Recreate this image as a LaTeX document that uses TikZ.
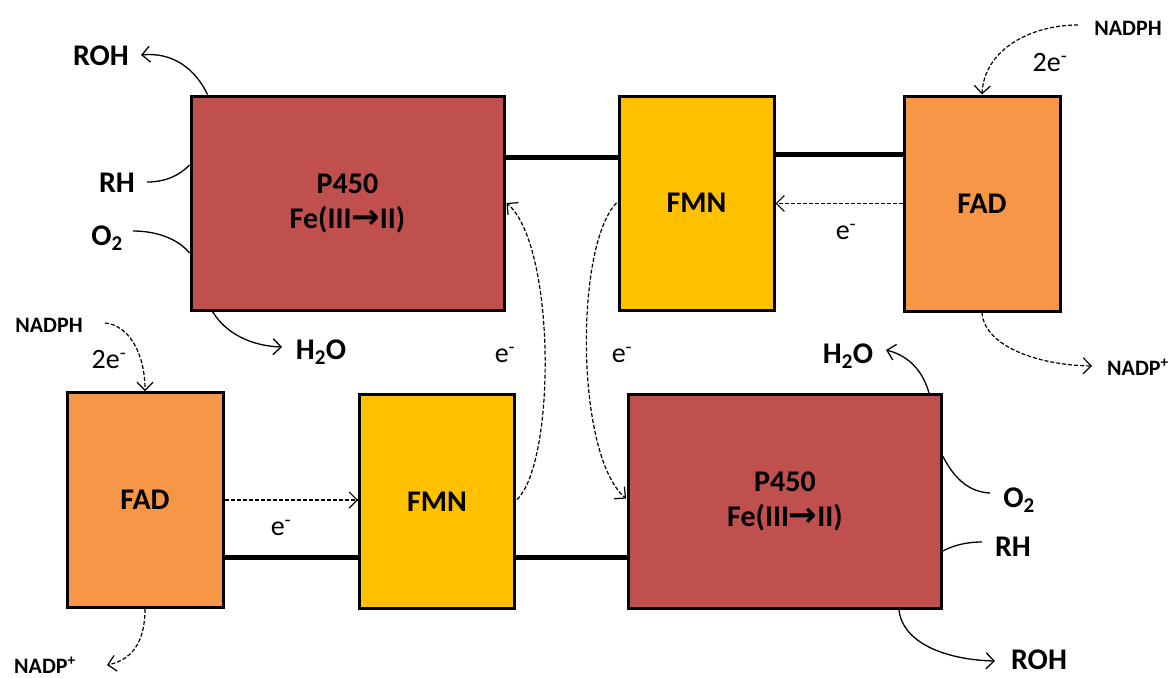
\documentclass[tikz,border=0pt]{standalone}
\usepackage{fontspec}
\setmainfont{Carlito}
\newfontfamily\dvfont{DejaVu Sans}
\usetikzlibrary{arrows.meta,calc}
\definecolor{pcol}{RGB}{192,80,77}
\definecolor{mcol}{RGB}{255,192,0}
\definecolor{fcol}{RGB}{247,150,70}
\begin{document}
\begin{tikzpicture}[x=1pt,y=-1pt,
  box/.style={draw=black,line width=3pt,inner sep=0pt,align=center,
    font=\fontsize{30}{35}\selectfont\bfseries},
  pbox/.style={box,fill=pcol,minimum width=313pt,minimum height=214pt},
  mbox/.style={box,fill=mcol,minimum width=155pt,minimum height=214pt},
  fbox/.style={box,fill=fcol,minimum width=156pt,minimum height=215pt},
  lbl/.style={inner sep=0pt,font=\fontsize{30}{36}\selectfont\bfseries},
  sml/.style={inner sep=0pt,font=\fontsize{22}{26}\selectfont\bfseries},
  elbl/.style={inner sep=0pt,font=\fontsize{28}{32}\selectfont},
  link/.style={line width=5pt},
  curve/.style={line width=1.3pt},
  arr/.style={curve,-{Straight Barb[length=8pt,width=16pt,line width=1.3pt]}},
  darr/.style={line width=1.2pt,dash pattern=on 4pt off 2pt,-{Straight Barb[length=8pt,width=16pt,line width=1.2pt,sep=0pt]}}
]
\useasboundingbox (0,0) rectangle (1172,677);

% ---------- top row ----------
\node[pbox] (p1) at (347.5,203) {P450\\Fe(III{\dvfont\fontsize{34}{35}\selectfont →}II)};
\node[mbox] (m1) at (696.5,203) {FMN};
\node[fbox] (f1) at (982,203.5) {FAD};

\draw[link] ($(p1.east)+(0,-46)$) -- ($(m1.west)+(0,-46)$);
\draw[link] ($(m1.east)+(0,-49)$) coordinate (mf1) -- (mf1 -| f1.west);
\draw[darr] (f1.west) -- (f1.west -| m1.east);
\node[elbl] (e1) at (846,232) {e\textsuperscript{-}};

\node[sml] (nadph1) at (1128,28) {NADPH};
\node[elbl] (tw1) at (1050,63) {2e\textsuperscript{-}};
\coordinate (n1s) at (1078,25);
\draw[darr] (n1s) .. controls (1030,25) and (984,50) .. (f1.north);
\node[sml] (nadp1) at (1138,367) {NADP\textsuperscript{+}};
\coordinate (np1e) at (1092,366);
\draw[darr] (f1.south) .. controls (984,345) and (1035,365) .. (np1e);

\node[lbl] (roh1) at (101,56) {ROH};
\coordinate (roh1e) at (141,55);
\draw[arr] ($(p1.north west)+(18,0)$) .. controls (195,68) and (172,52) .. (roh1e);
\node[lbl] (rh1) at (117,183) {RH};
\coordinate (rh1s) at (147,182);
\draw[curve] (rh1s) .. controls (166,182) and (180,175) .. ($(p1.west)+(0,-38)$);
\node[lbl] (o1) at (107,238) {O\textsubscript{2}};
\coordinate (o1s) at (133,231);
\draw[curve] (o1s) .. controls (160,231) and (180,241) .. ($(p1.west)+(0,50)$);
\node[lbl] (h1) at (321,352) {H\textsubscript{2}O};
\coordinate (h1e) at (282,347);
\draw[arr] ($(p1.south west)+(23,0)$) .. controls (226,334) and (252,346) .. (h1e);

% ---------- bottom row ----------
\node[fbox] (f2) at (145,500) {FAD};
\node[mbox] (m2) at (437,501.5) {FMN};
\node[pbox] (p2) at (785,501.5) {P450\\Fe(III{\dvfont\fontsize{34}{35}\selectfont →}II)};

\draw[link] ($(f2.east)+(0,57)$) coordinate (fm2) -- (fm2 -| m2.west);
\draw[link] ($(m2.east)+(0,55.5)$) coordinate (mp2) -- (mp2 -| p2.west);
\draw[darr] (f2.east) -- (f2.east -| m2.west);
\node[elbl] (e2) at (281,528) {e\textsuperscript{-}};

\node[sml] (nadph2) at (49,325) {NADPH};
\node[elbl] (tw2) at (109,360) {2e\textsuperscript{-}};
\coordinate (n2s) at (105,323);
\draw[darr] (n2s) .. controls (128,325) and (145,352) .. (f2.north);
\node[sml] (nadp2) at (45,665) {NADP\textsuperscript{+}};
\coordinate (np2e) at (107,665);
\draw[darr] (f2.south) .. controls (145,642) and (132,660) .. (np2e);

\node[lbl] (h2) at (848,356) {H\textsubscript{2}O};
\coordinate (h2e) at (886,350);
\draw[arr] ($(p2.north east)+(-14,0)$) .. controls (922,368) and (906,355) .. (h2e);
\node[lbl] (o2) at (1019,500) {O\textsubscript{2}};
\coordinate (o2s) at (990,493);
\draw[curve] (o2s) .. controls (970,492) and (955,480) .. ($(p2.east)+(0,-45)$);
\node[lbl] (rh2) at (1013,547) {RH};
\coordinate (rh2s) at (982,542);
\draw[curve] (rh2s) .. controls (965,542) and (952,546) .. ($(p2.east)+(0,49.5)$);
\node[lbl] (roh2) at (1039,660) {ROH};
\coordinate (roh2e) at (995,661);
\draw[arr] ($(p2.south east)+(-44,0)$) .. controls (903,645) and (950,660) .. (roh2e);

% ---------- cross transfers ----------
\draw[darr] ($(m2.east)+(1,-2)$) .. controls (556,462) and (556,245) .. ($(p1.east)+(1,0)$);
\draw[darr] ($(m1.west)+(-1,0)$) .. controls (575,245) and (575,455) .. ($(p2.west)+(-1,-3)$);
\node[elbl] (e3) at (505,355) {e\textsuperscript{-}};
\node[elbl] (e4) at (622,355) {e\textsuperscript{-}};
\end{tikzpicture}
\end{document}
